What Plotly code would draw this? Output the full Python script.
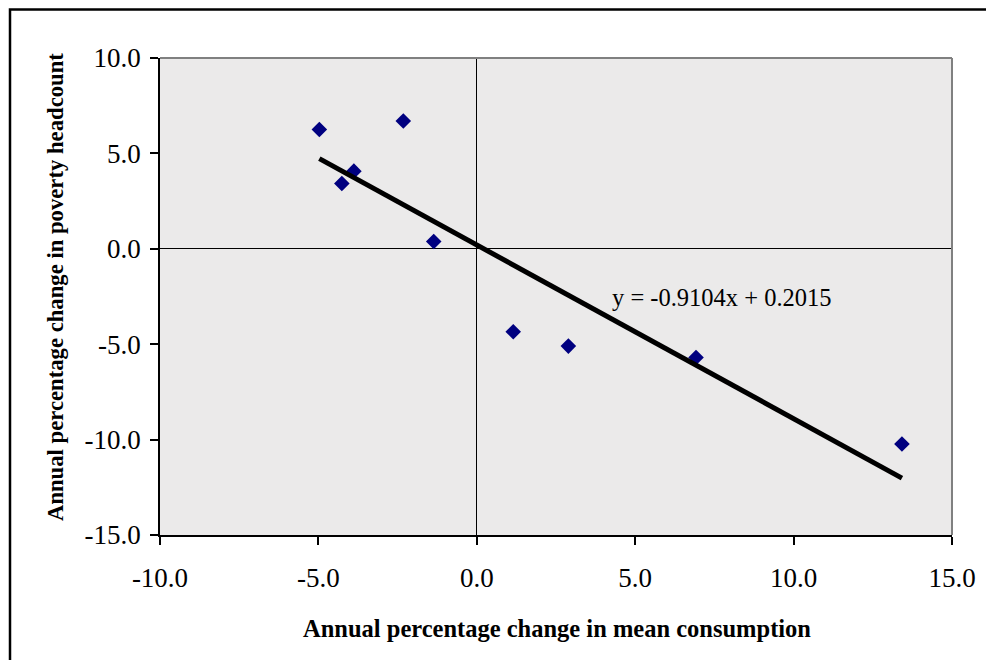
import plotly.graph_objects as go

# Data
mean_consumption_change = [-4.97, -4.26, -3.88, -2.32, -1.36, 1.15, 2.89, 6.92, 13.42]
poverty_headcount_change = [6.25, 3.42, 4.07, 6.70, 0.38, -4.35, -5.10, -5.70, -10.23]
trend_slope = -0.9104
trend_intercept = 0.2015
tick_values = [-10, -5, 0, 5, 10, 15]
tick_labels = ["-10.0", "-5.0", "0.0", "5.0", "10.0", "15.0"]
ytick_values = [-15, -10, -5, 0, 5, 10]
ytick_labels = ["-15.0", "-10.0", "-5.0", "0.0", "5.0", "10.0"]
x_title = "Annual percentage change in mean consumption"
y_title = "Annual percentage change in poverty headcount"
equation = "y = -0.9104x + 0.2015"

# page has an 8px body margin; work in window pixels and convert
OFF = 8
W, H = 994 - OFF, 660 - OFF
L, R, T, B = 160 - OFF, 42, 58 - OFF, 660 - 535
pw, ph = W - L - R, H - T - B

def px_x(p):
    return (p - OFF - L) / pw

def px_y(p):
    return (H - B - (p - OFF)) / ph

xmin, xmax = min(mean_consumption_change), max(mean_consumption_change)
trend_x = [xmin, xmax]
trend_y = [trend_slope * v + trend_intercept for v in trend_x]

serif = "Liberation Serif, Times New Roman, serif"

fig = go.Figure()
fig.add_trace(go.Scatter(
    x=mean_consumption_change, y=poverty_headcount_change, mode="markers",
    marker=dict(symbol="diamond", size=12, color="#000080", line=dict(width=0)),
    showlegend=False, hoverinfo="x+y"))
fig.add_trace(go.Scatter(
    x=trend_x, y=trend_y, mode="lines",
    line=dict(color="black", width=5), showlegend=False, hoverinfo="skip"))

axis_common = dict(
    showgrid=False, zeroline=True, zerolinecolor="black", zerolinewidth=1.2,
    showline=True, linecolor="black", linewidth=1.5, mirror=False,
    ticks="outside", ticklen=8, tickcolor="black", tickwidth=1.5,
    tickfont=dict(size=27, family=serif, color="black"), fixedrange=True)

fig.update_layout(
    width=W, height=H,
    margin=dict(l=L, r=R, t=T, b=B, pad=0),
    paper_bgcolor="white", plot_bgcolor="#ebeaea",
    font=dict(family=serif, color="black"),
    xaxis=dict(range=[-10, 15], tickvals=tick_values, ticktext=tick_labels,
               ticklabelstandoff=10, **axis_common),
    yaxis=dict(range=[-15, 10], tickvals=ytick_values, ticktext=ytick_labels,
               ticklabelstandoff=4, **axis_common),
    shapes=[
        dict(type="line", xref="paper", yref="paper", x0=0, x1=1, y0=1, y1=1,
             line=dict(color="#808080", width=2)),
        dict(type="line", xref="paper", yref="paper", x0=1, x1=1, y0=0, y1=1,
             line=dict(color="#808080", width=2)),
        dict(type="rect", xref="paper", yref="paper",
             x0=px_x(10), x1=px_x(1010), y0=px_y(680), y1=px_y(9.5),
             line=dict(color="black", width=2.5), fillcolor="rgba(0,0,0,0)", layer="above"),
    ],
    annotations=[
        dict(text=f"<b>{x_title}</b>", xref="paper", yref="paper",
             x=px_x(557), y=px_y(628), showarrow=False,
             font=dict(size=24.5, family=serif, color="black"),
             xanchor="center", yanchor="middle"),
        dict(text=f"<b>{y_title}</b>", xref="paper", yref="paper",
             x=px_x(55), y=px_y(287), showarrow=False, textangle=-90,
             font=dict(size=22.7, family=serif, color="black"),
             xanchor="center", yanchor="middle"),
        dict(text=equation, xref="paper", yref="paper",
             x=px_x(610), y=px_y(297), showarrow=False,
             font=dict(size=24.5, family=serif, color="black"),
             xanchor="left", yanchor="middle"),
    ],
)

fig.write_html("out.html")
